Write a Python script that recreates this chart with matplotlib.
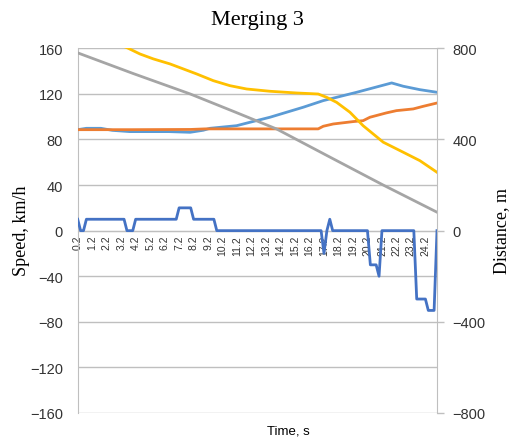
import matplotlib
matplotlib.use("Agg")
import matplotlib.pyplot as plt

# ---------------- data ----------------
# light blue speed series, km/h
blue_t = [0.2, 0.8, 1.8, 2.6, 3.8, 6.5, 7.96, 8.87, 9.33, 11.17, 12.09, 13.47, 15.77,
          17.15, 18.07, 19.45, 21.87, 22.67, 23.82, 25.0]
blue_v = [88.6, 89.8, 89.8, 88.0, 86.9, 86.9, 86.3, 88.1, 89.8, 92.1, 95.1, 99.5, 108.3,
          114.1, 117.0, 121.4, 129.6, 126.7, 123.7, 121.4]

# orange speed series, km/h
orange_t = [0.2, 4.0, 8.0, 9.0, 16.8, 17.15, 17.84, 19.22, 19.9, 20.37, 21.5, 22.2,
            23.36, 24.05, 25.0]
orange_v = [88.6, 88.6, 88.8, 89.3, 89.3, 91.6, 93.6, 95.7, 96.5, 99.5, 103.3, 105.3,
            106.8, 109.1, 112.0]

# yellow speed series, km/h (above 160 at the start, clipped by the axis)
yellow_t = [0.2, 2.0, 3.69, 4.5, 5.42, 6.57, 7.49, 8.41, 9.56, 10.71, 11.86, 13.47,
            15.31, 16.8, 17.38, 18.07, 18.99, 19.9, 21.29, 22.67, 23.82, 25.0]
yellow_v = [177, 169, 160, 155.0, 150.7, 146.3, 141.9, 137.5, 131.6, 127.2, 124.3, 122.3,
            120.8, 119.9, 117.0, 112.6, 103.9, 92.1, 77.6, 68.8, 61.4, 51.2]

# dark blue step-like series (primary axis)
dark_t = [0.2, 0.4, 0.6, 0.8, 3.4, 3.6, 4.0, 4.2, 7.0, 7.2, 8.0, 8.2, 9.6, 9.8,
          17.0, 17.2, 17.4, 17.6, 17.8, 20.2, 20.4, 20.8, 21.0, 21.2, 23.4, 23.6,
          24.2, 24.4, 24.8, 25.0]
dark_v = [10, 0, 0, 10, 10, 0, 0, 10, 10, 20, 20, 10, 10, 0,
          0, -20, 0, 10, 0, 0, -30, -30, -40, 0, 0, -60,
          -60, -70, -70, 0]

# gray distance series, m (secondary axis)
gray_t = [0.2, 4.0, 7.95, 11.0, 13.93, 17.6, 21.29, 25.0]
gray_d = [780, 690, 600, 522, 446, 323, 200, 81]

xtick_vals = [0.2, 1.2, 2.2, 3.2, 4.2, 5.2, 6.2, 7.2, 8.2, 9.2, 10.2, 11.2, 12.2,
              13.2, 14.2, 15.2, 16.2, 17.2, 18.2, 19.2, 20.2, 21.2, 22.2, 23.2, 24.2]
xtick_labels = ["0.2", "1.2", "2.2", "3.2", "4.2", "5.2", "6.2", "7.2", "8.2", "9.2",
                "10.2", "11.2", "12.2", "13.2", "14.2", "15.2", "16.2", "17.2", "18.2",
                "19.2", "20.2", "21.2", "22.2", "23.2", "24.2"]
speed_ticks = [-160, -120, -80, -40, 0, 40, 80, 120, 160]
dist_ticks = [-800, -400, 0, 400, 800]

# ---------------- figure ----------------
W, H = 509, 439
fig = plt.figure(figsize=(W / 100, H / 100), dpi=100)
ax = fig.add_axes([77.7 / W, 1 - 414 / H, (437 - 77.7) / W, (414 - 49.3) / H])
ax2 = ax.twinx()

grid_c = "#BFBFBF"
tick_c = "#333333"
sans = "Liberation Sans"
serif = "Liberation Serif"
lw = 2.0

# spines first (set_position resets tick properties)
ax.spines["bottom"].set_position(("data", 0))
ax.spines["bottom"].set_color(grid_c)
ax.spines["top"].set_visible(False)
ax.spines["right"].set_visible(False)
ax.spines["left"].set_color(grid_c)
for s in ["top", "bottom", "left"]:
    ax2.spines[s].set_visible(False)
ax2.spines["right"].set_color(grid_c)

ax.plot(blue_t, blue_v, color="#5B9BD5", lw=lw, zorder=3)
ax.plot(orange_t, orange_v, color="#ED7D31", lw=lw, zorder=4)
ax.plot(yellow_t, yellow_v, color="#FFC000", lw=lw, zorder=5)
ax.plot(dark_t, dark_v, color="#4472C4", lw=lw, zorder=6)
ax2.plot(gray_t, gray_d, color="#A5A5A5", lw=lw)

ax.set_xlim(0.2, 25.0)
ax.set_ylim(-160, 160)
ax2.set_ylim(-800, 800)

ax.set_yticks(speed_ticks)
ax.set_yticklabels([f"{v}".replace("-", "\u2212") for v in speed_ticks],
                   fontfamily=sans, fontsize=10.5, color=tick_c)
ax.tick_params(axis="y", length=0, pad=10.5)
ax.yaxis.grid(True, color=grid_c, lw=1.0)
ax.set_axisbelow(True)

ax2.set_yticks(dist_ticks)
ax2.set_yticklabels([f"{v}".replace("-", "\u2212") for v in dist_ticks],
                    fontfamily=sans, fontsize=10.5, color=tick_c)
ax2.tick_params(axis="y", length=5, width=1.0, color=grid_c, pad=6)

ax.set_xticks(xtick_vals)
ax.set_xticklabels(xtick_labels, rotation=90, fontfamily=sans, fontsize=7.5, color=tick_c)
ax.tick_params(axis="x", length=0, pad=3)

fig.text(0.505, 1 - 21 / H, "Merging 3", ha="center", va="center",
         fontfamily=serif, fontsize=16, color="black")
fig.text(22 / W, 1 - 231 / H, "Speed, km/h", rotation=90, ha="center", va="center",
         fontfamily=serif, fontsize=13, color="black")
fig.text(502 / W, 1 - 231 / H, "Distance, m", rotation=90, ha="center", va="center",
         fontfamily=serif, fontsize=13, color="black")
fig.text(288 / W, 1 - 432 / H, "Time, s", ha="center", va="center",
         fontfamily=sans, fontsize=9.5, color="black")

fig.savefig("out.png", dpi=100)
